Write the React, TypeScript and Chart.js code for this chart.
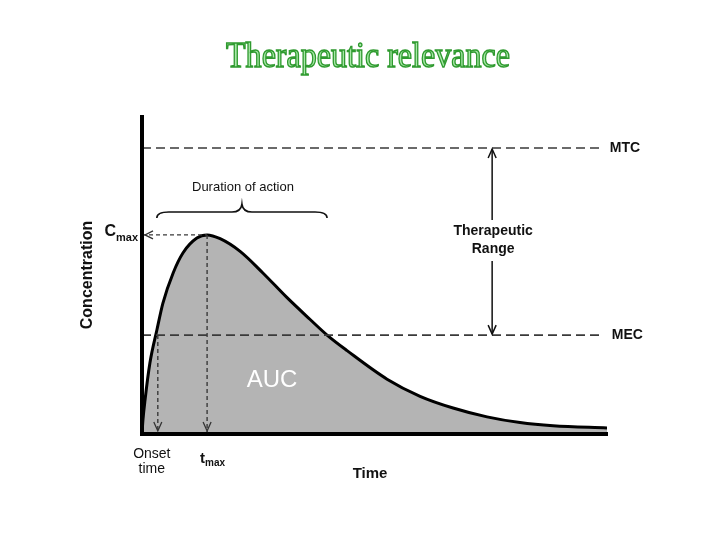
import { useEffect, useRef } from "react";
import { Chart, registerables } from "chart.js";

Chart.register(...registerables);

// Concentration–time curve (x: time 0..100, y: concentration 0..100)
const timeValues = [0, 0.2, 0.65, 1.7, 3.2, 4.5, 6.7, 8.8, 11.8, 14, 16.8, 21.1, 26, 31.2, 36.1, 39.8, 44.1, 52.7, 59.8, 66.9, 74.2, 81.3, 88.4, 100];
const concValues = [0, 4.4, 10.7, 22.4, 32.8, 41.3, 50.8, 57.1, 61.8, 62.8, 61.6, 57.6, 50.8, 43.0, 36.2, 31.2, 26.3, 17.3, 11.9, 8.2, 5.4, 3.6, 2.6, 1.9];

// Reference levels
const MTC = 90.2;
const MEC = 31.2;
const CMAX = 62.8;
const TMAX = 14;
const ONSET = 3.4;
const MEC_END = 39.8;
const REF_END = 99.1;
const RANGE_X = 75.3;
const BRACE_Y = 69.7;

const titleText = "Therapeutic relevance";
const yTitle = "Concentration";
const xTitle = "Time";
const mtcLabel = "MTC";
const mecLabel = "MEC";
const rangeLabel = ["Therapeutic", "Range"];
const durationLabel = "Duration of action";
const aucLabel = "AUC";
const onsetLabel = ["Onset", "time"];

const SANS = '"Liberation Sans", Arial, sans-serif';

const annotations = {
  id: "annotations",
  afterDraw(chart: any) {
    const { ctx } = chart;
    const xs = chart.scales.x;
    const ys = chart.scales.y;
    const px = (v: number) => xs.getPixelForValue(v);
    const py = (v: number) => ys.getPixelForValue(v);
    ctx.save();

    // Title
    ctx.font = '30px "Liberation Serif", "Times New Roman", serif';
    const tw = ctx.measureText(titleText).width;
    ctx.save();
    ctx.translate(368, 67);
    ctx.scale(284 / tw, 1.2);
    ctx.textAlign = "center";
    ctx.textBaseline = "alphabetic";
    ctx.fillStyle = "#a8e8a8";
    ctx.fillText(titleText, 0, 0);
    ctx.strokeStyle = "#2f9a2f";
    ctx.lineWidth = 1.2;
    ctx.strokeText(titleText, 0, 0);
    ctx.restore();

    // Y axis title
    ctx.save();
    ctx.translate(88, 275);
    ctx.rotate(-Math.PI / 2);
    ctx.font = "bold 16px " + SANS;
    ctx.fillStyle = "#111";
    ctx.textAlign = "center";
    ctx.textBaseline = "middle";
    ctx.fillText(yTitle, 0, 0);
    ctx.restore();

    ctx.fillStyle = "#111";
    // Cmax label
    ctx.textBaseline = "alphabetic";
    ctx.font = "bold 16px " + SANS;
    ctx.textAlign = "right";
    ctx.fillText("C", 116, py(CMAX) + 1);
    ctx.font = "bold 11px " + SANS;
    ctx.textAlign = "left";
    ctx.fillText("max", 116, py(CMAX) + 6);

    // Onset time
    ctx.font = "14px " + SANS;
    ctx.textAlign = "center";
    ctx.fillText(onsetLabel[0], px(ONSET) - 6, 458);
    ctx.fillText(onsetLabel[1], px(ONSET) - 6, 473);

    // tmax
    ctx.font = "bold 15px " + SANS;
    ctx.textAlign = "left";
    ctx.fillText("t", px(TMAX) - 7, 463);
    ctx.font = "bold 10px " + SANS;
    ctx.fillText("max", px(TMAX) - 2, 466);

    // X axis title
    ctx.font = "bold 15px " + SANS;
    ctx.textAlign = "center";
    ctx.fillText(xTitle, 370, 478);

    // MTC / MEC
    ctx.font = "bold 14px " + SANS;
    ctx.textAlign = "left";
    ctx.textBaseline = "middle";
    ctx.fillText(mtcLabel, px(REF_END) + 7, py(MTC));
    ctx.fillText(mecLabel, px(REF_END) + 9, py(MEC));

    // Therapeutic range
    const rx = px(RANGE_X);
    ctx.textAlign = "center";
    ctx.fillText(rangeLabel[0], rx + 1, 231);
    ctx.fillText(rangeLabel[1], rx + 1, 249);

    ctx.strokeStyle = "#111";
    ctx.lineWidth = 1.5;
    ctx.beginPath();
    ctx.moveTo(rx, py(MTC) + 1);
    ctx.lineTo(rx, 220);
    ctx.moveTo(rx, 261);
    ctx.lineTo(rx, py(MEC) - 1);
    ctx.stroke();
    // arrowheads
    const head = (x0: number, y0: number, dir: number) => {
      ctx.beginPath();
      ctx.moveTo(x0 - 4, y0 + dir * 9);
      ctx.lineTo(x0, y0);
      ctx.lineTo(x0 + 4, y0 + dir * 9);
      ctx.stroke();
    };
    head(rx, py(MTC) + 1, 1);
    head(rx, py(MEC) - 1, -1);

    // Down arrows (onset, tmax) and left arrow (Cmax)
    ctx.strokeStyle = "#333";
    ctx.lineWidth = 1.3;
    head(px(ONSET), py(0) - 3, -1);
    head(px(TMAX), py(0) - 3, -1);
    ctx.beginPath();
    ctx.moveTo(px(0) + 11, py(CMAX) - 4);
    ctx.lineTo(px(0) + 3, py(CMAX));
    ctx.lineTo(px(0) + 11, py(CMAX) + 4);
    ctx.stroke();

    // Brace
    const bx1 = px(ONSET) - 1;
    const bx2 = px(MEC_END);
    const bm = (bx1 + bx2) / 2;
    const by = py(BRACE_Y);
    ctx.strokeStyle = "#111";
    ctx.lineWidth = 1.6;
    ctx.beginPath();
    ctx.moveTo(bx1, by + 5);
    ctx.quadraticCurveTo(bx1, by - 1, bx1 + 12, by - 1);
    ctx.lineTo(bm - 10, by - 1);
    ctx.quadraticCurveTo(bm - 1, by - 1, bm, by - 9);
    ctx.quadraticCurveTo(bm + 1, by - 1, bm + 10, by - 1);
    ctx.lineTo(bx2 - 12, by - 1);
    ctx.quadraticCurveTo(bx2, by - 1, bx2, by + 5);
    ctx.stroke();

    ctx.font = "13px " + SANS;
    ctx.fillStyle = "#111";
    ctx.textAlign = "center";
    ctx.textBaseline = "middle";
    ctx.fillText(durationLabel, bm + 1, 187);

    // AUC
    ctx.font = "24px " + SANS;
    ctx.fillStyle = "#ffffff";
    ctx.fillText(aucLabel, 272, 380);

    ctx.restore();
  },
};

export default function App() {
  const ref = useRef<HTMLCanvasElement | null>(null);
  useEffect(() => {
    document.body.style.margin = "0";
    const canvas = ref.current;
    if (!canvas) return;
    const dashed = (pts: { x: number; y: number }[], dash: number[], width = 1.6) => ({
      data: pts,
      borderColor: "#3a3a3a",
      borderWidth: width,
      borderDash: dash,
      pointRadius: 0,
      fill: false,
      tension: 0,
    });
    const chart = new Chart(canvas, {
      type: "line",
      data: {
        datasets: [
          dashed([{ x: 0, y: MTC }, { x: REF_END, y: MTC }], [9, 5]),
          dashed([{ x: 0, y: MEC }, { x: REF_END, y: MEC }], [9, 5]),
          dashed([{ x: 0, y: CMAX }, { x: TMAX, y: CMAX }], [4, 3], 1.4),
          dashed([{ x: TMAX, y: CMAX }, { x: TMAX, y: 0 }], [4, 3], 1.4),
          dashed([{ x: ONSET, y: MEC }, { x: ONSET, y: 0 }], [4, 3], 1.4),
          {
            data: timeValues.map((t, i) => ({ x: t, y: concValues[i] })),
            borderColor: "#000",
            borderWidth: 3,
            backgroundColor: "rgb(180,180,180)",
            fill: "origin",
            pointRadius: 0,
            cubicInterpolationMode: "monotone",
          },
        ] as any,
      },
      options: {
        animation: false,
        responsive: false,
        layout: { padding: { left: 134, right: 121, top: 117, bottom: 104 } },
        plugins: { legend: { display: false }, tooltip: { enabled: false }, title: { display: false } },
        scales: {
          x: {
            type: "linear",
            min: 0,
            max: 100,
            grid: { display: false },
            ticks: { display: false },
            border: { display: true, color: "#000", width: 4, z: 1 },
          },
          y: {
            type: "linear",
            min: 0,
            max: 100,
            grid: { display: false },
            ticks: { display: false },
            border: { display: true, color: "#000", width: 4, z: 1 },
          },
        },
      } as any,
      plugins: [annotations],
    });
    return () => chart.destroy();
  }, []);
  return (
    <div style={{ width: 728, height: 546, background: "#fff" }}>
      <canvas ref={ref} width={728} height={546} style={{ display: "block" }} />
    </div>
  );
}
